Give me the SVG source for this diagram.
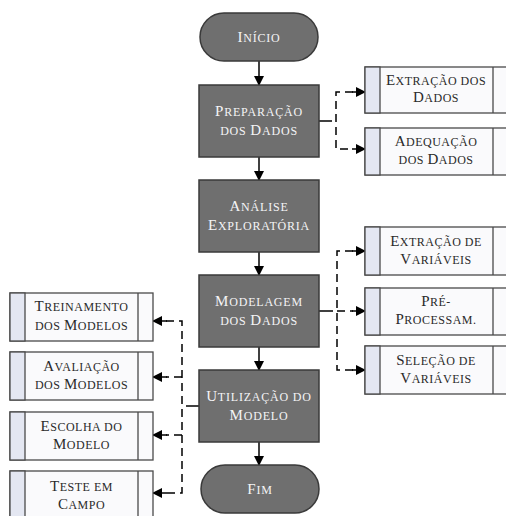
<svg xmlns="http://www.w3.org/2000/svg" width="506" height="516" viewBox="0 0 506 516">
<defs>
<style>
.main{fill:#6f6f6f;stroke:#3a3a3a;stroke-width:1.5}
.sub{fill:#fafafc;stroke:#4a4a4a;stroke-width:1.3}
.strip{fill:#e4e7f2;stroke:#4a4a4a;stroke-width:1.3}
.sep{stroke:#4a4a4a;stroke-width:1.3}
.tm{font-family:"Liberation Serif","Times New Roman",serif;font-size:15px;fill:#f4f4f6;text-anchor:middle;letter-spacing:0.8px}
.ts{font-family:"Liberation Serif","Times New Roman",serif;font-size:15px;fill:#2a2a2a;text-anchor:middle;letter-spacing:0.5px}
.s{font-size:12px}
.solid{stroke:#000;stroke-width:1.5;fill:none}
.dash{stroke:#000;stroke-width:1.5;fill:none;stroke-dasharray:8 5}
</style>
<marker id="ah" markerWidth="10" markerHeight="10" refX="9" refY="5" orient="auto" markerUnits="userSpaceOnUse">
<path d="M0,0 L10,5 L0,10 Z" fill="#000"/>
</marker>
</defs>
<rect width="506" height="516" fill="#fff"/>

<g id="connectors">
<line class="solid" x1="259" y1="61" x2="259" y2="85" marker-end="url(#ah)"/>
<line class="solid" x1="259" y1="157" x2="259" y2="180" marker-end="url(#ah)"/>
<line class="solid" x1="259" y1="252" x2="259" y2="275" marker-end="url(#ah)"/>
<line class="solid" x1="259" y1="347" x2="259" y2="370" marker-end="url(#ah)"/>
<line class="solid" x1="259" y1="442" x2="259" y2="465" marker-end="url(#ah)"/>

<line class="solid" x1="319" y1="121" x2="332" y2="121"/>
<path class="dash" d="M353,92 H336 V149 H353"/>
<line class="solid" x1="352" y1="92" x2="365" y2="92" marker-end="url(#ah)"/>
<line class="solid" x1="352" y1="149" x2="365" y2="149" marker-end="url(#ah)"/>

<line class="solid" x1="319" y1="311" x2="333" y2="311"/>
<path class="dash" d="M353,251 H337 V370 H353"/>
<line class="dash" x1="337" y1="311" x2="353" y2="311"/>
<line class="solid" x1="352" y1="251" x2="365" y2="251" marker-end="url(#ah)"/>
<line class="solid" x1="352" y1="311" x2="365" y2="311" marker-end="url(#ah)"/>
<line class="solid" x1="352" y1="370" x2="365" y2="370" marker-end="url(#ah)"/>

<line class="solid" x1="199" y1="406" x2="186" y2="406"/>
<path class="dash" d="M166,321 H182 V493 H166"/>
<line class="dash" x1="182" y1="377" x2="166" y2="377"/>
<line class="dash" x1="182" y1="435" x2="166" y2="435"/>
<line class="solid" x1="167" y1="321" x2="153" y2="321" marker-end="url(#ah)"/>
<line class="solid" x1="167" y1="377" x2="153" y2="377" marker-end="url(#ah)"/>
<line class="solid" x1="167" y1="435" x2="153" y2="435" marker-end="url(#ah)"/>
<line class="solid" x1="167" y1="493" x2="153" y2="493" marker-end="url(#ah)"/>
</g>

<g id="inicio">
<rect class="main" x="200" y="13" width="118" height="48" rx="24"/>
<text class="tm" x="259" y="42">I<tspan class="s">NÍCIO</tspan></text>
</g>
<g id="preparacao">
<rect class="main" x="199" y="85" width="120" height="72"/>
<text class="tm" x="259" y="116">P<tspan class="s">REPARAÇÃO</tspan></text>
<text class="tm" x="259" y="135"><tspan class="s">DOS </tspan>D<tspan class="s">ADOS</tspan></text>
</g>
<g id="analise">
<rect class="main" x="199" y="180" width="120" height="72"/>
<text class="tm" x="259" y="211">A<tspan class="s">NÁLISE</tspan></text>
<text class="tm" x="259" y="230">E<tspan class="s">XPLORATÓRIA</tspan></text>
</g>
<g id="modelagem">
<rect class="main" x="199" y="275" width="120" height="72"/>
<text class="tm" x="259" y="306">M<tspan class="s">ODELAGEM</tspan></text>
<text class="tm" x="259" y="325"><tspan class="s">DOS </tspan>D<tspan class="s">ADOS</tspan></text>
</g>
<g id="utilizacao">
<rect class="main" x="199" y="370" width="120" height="72"/>
<text class="tm" x="259" y="401">U<tspan class="s">TILIZAÇÃO DO</tspan></text>
<text class="tm" x="259" y="420">M<tspan class="s">ODELO</tspan></text>
</g>
<g id="fim">
<rect class="main" x="201" y="465" width="118" height="48" rx="24"/>
<text class="tm" x="260" y="494">F<tspan class="s">IM</tspan></text>
</g>

<g id="extracao-dados">
<rect class="sub" x="365" y="67" width="143" height="46"/>
<rect class="strip" x="365" y="67" width="15" height="46"/>
<line class="sep" x1="493" y1="67" x2="493" y2="113"/>
<text class="ts" x="436" y="85">E<tspan class="s">XTRAÇÃO DOS</tspan></text>
<text class="ts" x="436" y="102">D<tspan class="s">ADOS</tspan></text>
</g>
<g id="adequacao-dados">
<rect class="sub" x="365" y="128" width="143" height="47"/>
<rect class="strip" x="365" y="128" width="15" height="47"/>
<line class="sep" x1="493" y1="128" x2="493" y2="175"/>
<text class="ts" x="436" y="146">A<tspan class="s">DEQUAÇÃO</tspan></text>
<text class="ts" x="436" y="164"><tspan class="s">DOS </tspan>D<tspan class="s">ADOS</tspan></text>
</g>
<g id="extracao-variaveis">
<rect class="sub" x="365" y="227" width="143" height="48"/>
<rect class="strip" x="365" y="227" width="15" height="48"/>
<line class="sep" x1="493" y1="227" x2="493" y2="275"/>
<text class="ts" x="436" y="246">E<tspan class="s">XTRAÇÃO DE</tspan></text>
<text class="ts" x="436" y="264">V<tspan class="s">ARIÁVEIS</tspan></text>
</g>
<g id="pre-processam">
<rect class="sub" x="365" y="288" width="143" height="47"/>
<rect class="strip" x="365" y="288" width="15" height="47"/>
<line class="sep" x1="493" y1="288" x2="493" y2="335"/>
<text class="ts" x="436" y="306">P<tspan class="s">RÉ-</tspan></text>
<text class="ts" x="436" y="324">P<tspan class="s">ROCESSAM.</tspan></text>
</g>
<g id="selecao-variaveis">
<rect class="sub" x="365" y="346" width="143" height="48"/>
<rect class="strip" x="365" y="346" width="15" height="48"/>
<line class="sep" x1="493" y1="346" x2="493" y2="394"/>
<text class="ts" x="436" y="365">S<tspan class="s">ELEÇÃO DE</tspan></text>
<text class="ts" x="436" y="383">V<tspan class="s">ARIÁVEIS</tspan></text>
</g>

<g id="treinamento">
<rect class="sub" x="10" y="293" width="143" height="48"/>
<rect class="strip" x="10" y="293" width="15" height="48"/>
<line class="sep" x1="138" y1="293" x2="138" y2="341"/>
<text class="ts" x="81.5" y="311">T<tspan class="s">REINAMENTO</tspan></text>
<text class="ts" x="81.5" y="330"><tspan class="s">DOS </tspan>M<tspan class="s">ODELOS</tspan></text>
</g>
<g id="avaliacao">
<rect class="sub" x="10" y="352" width="143" height="48"/>
<rect class="strip" x="10" y="352" width="15" height="48"/>
<line class="sep" x1="138" y1="352" x2="138" y2="400"/>
<text class="ts" x="81.5" y="371">A<tspan class="s">VALIAÇÃO</tspan></text>
<text class="ts" x="81.5" y="389"><tspan class="s">DOS </tspan>M<tspan class="s">ODELOS</tspan></text>
</g>
<g id="escolha">
<rect class="sub" x="10" y="412" width="143" height="48"/>
<rect class="strip" x="10" y="412" width="15" height="48"/>
<line class="sep" x1="138" y1="412" x2="138" y2="460"/>
<text class="ts" x="81.5" y="431">E<tspan class="s">SCOLHA DO</tspan></text>
<text class="ts" x="81.5" y="449">M<tspan class="s">ODELO</tspan></text>
</g>
<g id="teste">
<rect class="sub" x="10" y="471" width="143" height="48"/>
<rect class="strip" x="10" y="471" width="15" height="48"/>
<line class="sep" x1="138" y1="471" x2="138" y2="519"/>
<text class="ts" x="81.5" y="491">T<tspan class="s">ESTE EM</tspan></text>
<text class="ts" x="81.5" y="509">C<tspan class="s">AMPO</tspan></text>
</g>
</svg>
